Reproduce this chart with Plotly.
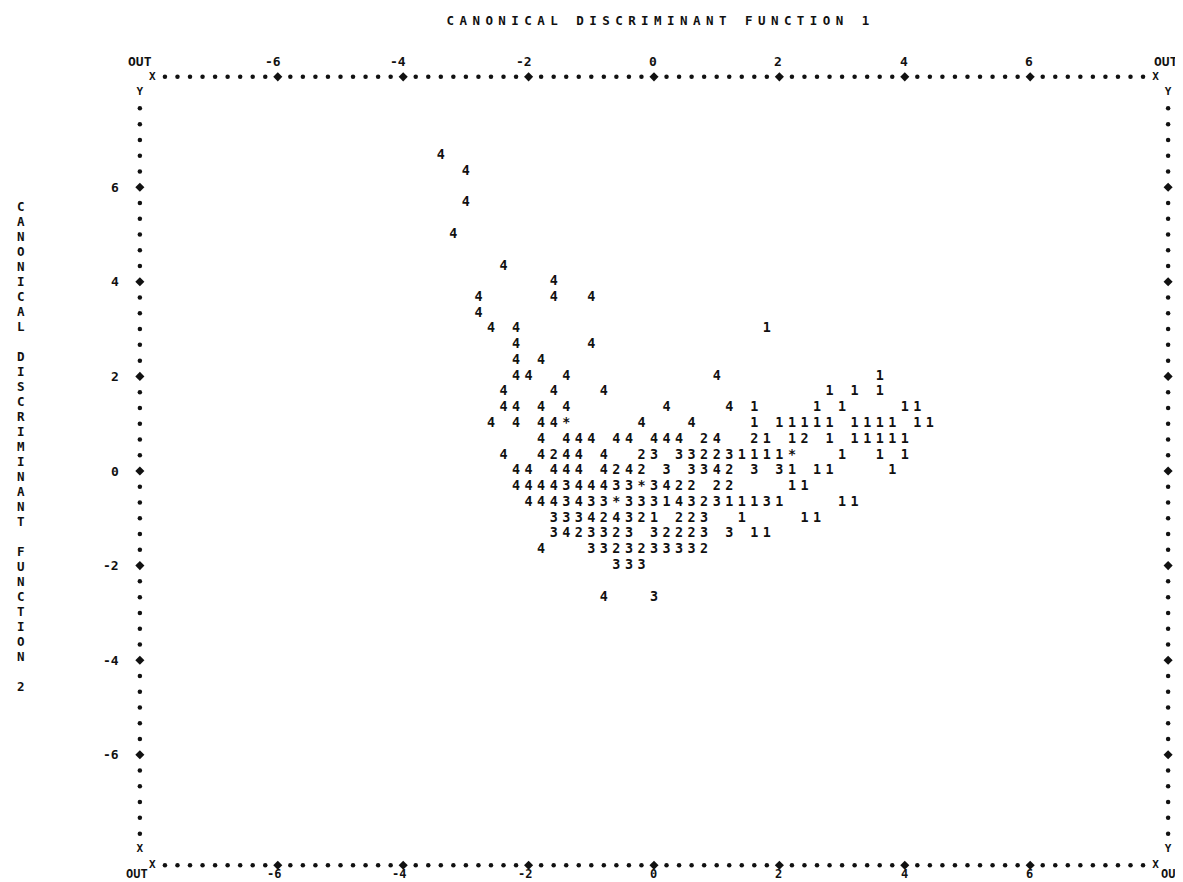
import numpy as np
import plotly.graph_objects as go

# ---------------- data (canonical discriminant scores) -------------
g1_x = [1.8, 3.6, 2.8, 3.2, 3.6, 1.6, 2.6, 3.0, 4.0, 4.2,
        1.6, 2.0, 2.2, 2.4, 2.6, 2.8, 3.2, 3.4, 3.6, 3.8, 4.2, 4.4,
        1.8, 2.2, 2.8, 3.2, 3.4, 3.6, 3.8, 4.0,
        1.4, 1.6, 1.8, 2.0, 3.0, 3.6, 4.0,
        2.2, 2.6, 2.8, 3.8,
        2.2, 2.4,
        0.2, 1.2, 1.4, 1.6, 2.0, 3.0, 3.2,
        0.0, 1.4, 2.4, 2.6,
        1.6, 1.8]
g1_y = [3.0, 2.0, 1.67, 1.67, 1.67, 1.33, 1.33, 1.33, 1.33, 1.33,
        1.0, 1.0, 1.0, 1.0, 1.0, 1.0, 1.0, 1.0, 1.0, 1.0, 1.0, 1.0,
        0.67, 0.67, 0.67, 0.67, 0.67, 0.67, 0.67, 0.67,
        0.33, 0.33, 0.33, 0.33, 0.33, 0.33, 0.33,
        0.0, 0.0, 0.0, 0.0,
        -0.33, -0.33,
        -0.67, -0.67, -0.67, -0.67, -0.67, -0.67, -0.67,
        -1.0, -1.0, -1.0, -1.0,
        -1.33, -1.33]

g2_x = [0.8, 1.6, 2.4,
        -1.6, -0.2, 0.8, 1.0,
        -0.6, -0.2, 1.2,
        0.4, 0.6, 1.0, 1.2,
        0.8,
        -0.8, -0.2, 0.4, 0.6,
        -1.2, -0.6, 0.2, 0.4, 0.6,
        -0.6, -0.2, 0.8]
g2_y = [0.67, 0.67, 0.67,
        0.33, 0.33, 0.33, 0.33,
        0.0, 0.0, 0.0,
        -0.33, -0.33, -0.33, -0.33,
        -0.67,
        -1.0, -1.0, -1.0, -1.0,
        -1.33, -1.33, -1.33, -1.33, -1.33,
        -1.67, -1.67, -1.67]

g3_x = [0.0, 0.4, 0.6, 1.2,
        0.2, 0.6, 0.8, 1.6, 2.0,
        -1.4, -0.6, -0.4, 0.0,
        -1.4, -1.0, -0.8, -0.4, -0.2, 0.0, 0.6, 1.0, 1.8,
        -1.6, -1.4, -1.2, -0.4, 0.8,
        -1.6, -1.0, -0.8, -0.4, 0.0, 0.8, 1.2,
        -1.0, -0.8, -0.4, 0.0, 0.2, 0.4, 0.6,
        -0.6, -0.4, -0.2,
        0.0]
g3_y = [0.33, 0.33, 0.33, 0.33,
        0.0, 0.0, 0.0, 0.0, 0.0,
        -0.33, -0.33, -0.33, -0.33,
        -0.67, -0.67, -0.67, -0.67, -0.67, -0.67, -0.67, -0.67, -0.67,
        -1.0, -1.0, -1.0, -1.0, -1.0,
        -1.33, -1.33, -1.33, -1.33, -1.33, -1.33, -1.33,
        -1.67, -1.67, -1.67, -1.67, -1.67, -1.67, -1.67,
        -2.0, -2.0, -2.0,
        -2.67]

g4_x = [-3.4, -3.0, -3.0, -3.2, -2.4, -1.6,
        -2.8, -1.6, -1.0, -2.8, -2.6, -2.2,
        -2.2, -1.0, -2.2, -1.8,
        -2.2, -2.0, -1.4, 1.0,
        -2.4, -1.6, -0.8,
        -2.4, -2.2, -1.8, -1.4, 0.2, 1.2,
        -2.6, -2.2, -1.8, -1.6, -0.2, 0.6,
        -1.8, -1.4, -1.2, -1.0, -0.6, -0.4, 0.0, 0.2, 0.4, 1.0,
        -2.4, -1.8, -1.4, -1.2, -0.8,
        -2.2, -2.0, -1.6, -1.4, -1.2, -0.8, -0.4, 1.0,
        -2.2, -2.0, -1.8, -1.6, -1.2, -1.0, -0.8, 0.2,
        -2.0, -1.8, -1.6, -1.2, 0.4,
        -1.0, -0.6,
        -1.4,
        -1.8,
        -0.8]
g4_y = [6.67, 6.33, 5.67, 5.0, 4.33, 4.0,
        3.67, 3.67, 3.67, 3.33, 3.0, 3.0,
        2.67, 2.67, 2.33, 2.33,
        2.0, 2.0, 2.0, 2.0,
        1.67, 1.67, 1.67,
        1.33, 1.33, 1.33, 1.33, 1.33, 1.33,
        1.0, 1.0, 1.0, 1.0, 1.0, 1.0,
        0.67, 0.67, 0.67, 0.67, 0.67, 0.67, 0.67, 0.67, 0.67, 0.67,
        0.33, 0.33, 0.33, 0.33, 0.33,
        0.0, 0.0, 0.0, 0.0, 0.0, 0.0, 0.0, 0.0,
        -0.33, -0.33, -0.33, -0.33, -0.33, -0.33, -0.33, -0.33,
        -0.67, -0.67, -0.67, -0.67, -0.67,
        -1.0, -1.0,
        -1.33,
        -1.67,
        -2.67]

centroid_x = [-1.4, 2.2, -0.2, -0.6]
centroid_y = [1.0, 0.33, -0.33, -0.67]

x_tick_vals = [-6, -4, -2, 0, 2, 4, 6]
x_tick_text = ["-6", "-4", "-2", "0", "2", "4", "6"]
y_tick_vals = [6, 4, 2, 0, -2, -4, -6]
y_tick_text = ["6", "4", "2", "0", "-2", "-4", "-6"]
x_title = "CANONICAL DISCRIMINANT FUNCTION 1"
y_title = "CANONICAL DISCRIMINANT FUNCTION 2"

# ---------------- style ----------------
FONT = "DejaVu Sans Mono"
INK = "#111111"
COL = 0.2          # printer column width (x units)
ROW = 1.0 / 3.0    # printer row height (y units)
LIM = 8.0
CHAR_SIZE = 13.4

fig = go.Figure()


def add_chars(xs, ys, sym, size=CHAR_SIZE):
    fig.add_trace(go.Scatter(
        x=xs, y=ys, mode="text", text=[sym] * len(xs),
        textposition="middle center", cliponaxis=False, hoverinfo="skip",
        textfont=dict(family=FONT, size=size, color=INK, weight="bold"),
        showlegend=False))


add_chars(g1_x, g1_y, "1")
add_chars(g2_x, g2_y, "2")
add_chars(g3_x, g3_y, "3")
add_chars(g4_x, g4_y, "4")
add_chars(centroid_x, centroid_y, "*")

# ---------------- dotted printer frame ----------------
xcols = np.round(np.arange(-LIM, LIM + 1e-9, COL), 2)
yrows = np.round(np.arange(-LIM, LIM + 1e-9, ROW), 3)
ytop, ybot = LIM + ROW, -LIM - ROW
xleft, xright = -LIM - COL, LIM + COL

is_xtick = np.isin(np.round(xcols, 2), x_tick_vals)
is_xend = np.isclose(np.abs(xcols), LIM)
dot_x = xcols[~is_xtick & ~is_xend]
tick_x = xcols[is_xtick]

y_is_tick = np.array([np.isclose(v, y_tick_vals).any() for v in yrows])
y_is_end = np.isclose(np.abs(yrows), LIM)
dot_y = yrows[~y_is_tick & ~y_is_end]
tick_y = yrows[y_is_tick]

dots_x = np.concatenate([dot_x, dot_x, np.full(len(dot_y), xleft), np.full(len(dot_y), xright)])
dots_y = np.concatenate([np.full(len(dot_x), ytop), np.full(len(dot_x), ybot), dot_y, dot_y])
fig.add_trace(go.Scatter(x=dots_x, y=dots_y, mode="markers", cliponaxis=False,
                         marker=dict(symbol="circle", size=4.5, color=INK),
                         hoverinfo="skip", showlegend=False))

dm_x = np.concatenate([tick_x, tick_x, np.full(len(tick_y), xleft), np.full(len(tick_y), xright)])
dm_y = np.concatenate([np.full(len(tick_x), ytop), np.full(len(tick_x), ybot), tick_y, tick_y])
fig.add_trace(go.Scatter(x=dm_x, y=dm_y, mode="markers", cliponaxis=False,
                         marker=dict(symbol="diamond", size=7, color=INK),
                         hoverinfo="skip", showlegend=False))

# corner letters
corner_x = [-LIM, LIM, -LIM, LIM, xleft, xright, xleft, xright]
corner_y = [ytop, ytop, ybot, ybot, LIM, LIM, -LIM, -LIM]
corner_t = ["X", "X", "X", "X", "Y", "Y", "X", "Y"]
fig.add_trace(go.Scatter(x=corner_x, y=corner_y, mode="text", text=corner_t,
                         cliponaxis=False, hoverinfo="skip", showlegend=False,
                         textfont=dict(family=FONT, size=11, color=INK, weight="bold")))

# ---------------- tick labels ----------------
lab_font = dict(family=FONT, size=13, color=INK, weight="bold")
bot_font = dict(family=FONT, size=12, color=INK, weight="bold")
for yy, fnt, sl, sr in ((ytop + ROW, lab_font, 0, -2), (-8.53, bot_font, -3, 4)):
    for v, t in zip(x_tick_vals, x_tick_text):
        fig.add_annotation(x=v, y=yy, text=t, showarrow=False, xanchor="right",
                           xshift=5, yanchor="middle", font=fnt)
    fig.add_annotation(x=xleft, y=yy, text="OUT", showarrow=False, xanchor="center",
                       xshift=sl, yanchor="middle", font=fnt)
    fig.add_annotation(x=xright, y=yy, text="OUT", showarrow=False, xanchor="center",
                       xshift=sr, yanchor="middle", font=fnt)

for v, t in zip(y_tick_vals, y_tick_text):
    fig.add_annotation(x=-8.5, y=v, text=t, showarrow=False, xanchor="right",
                       yanchor="middle", font=lab_font)

# ---------------- titles (printed one character per printer cell) ----------------
tx = -3.25 + 0.207 * np.arange(len(x_title))
fig.add_trace(go.Scatter(x=tx, y=np.full(len(x_title), 9.5), mode="text",
                         text=list(x_title), cliponaxis=False, hoverinfo="skip",
                         showlegend=False,
                         textfont=dict(family=FONT, size=12.5, color=INK, weight="bold")))

ty = 5.56 - 0.317 * np.arange(len(y_title))
fig.add_trace(go.Scatter(x=np.full(len(y_title), -10.1), y=ty, mode="text",
                         text=list(y_title), cliponaxis=False, hoverinfo="skip",
                         showlegend=False,
                         textfont=dict(family=FONT, size=12.5, color=INK, weight="bold")))

# ---------------- layout: pixel-true printer grid ----------------
fig.update_layout(
    width=1183, height=882,
    margin=dict(l=0, r=0, t=0, b=0, pad=0),
    paper_bgcolor="white", plot_bgcolor="white",
    xaxis=dict(range=[-10.303, 8.565], visible=False, fixedrange=True),
    yaxis=dict(range=[-8.858, 9.789], visible=False, fixedrange=True),
    showlegend=False,
)

fig.write_html("out.html")
